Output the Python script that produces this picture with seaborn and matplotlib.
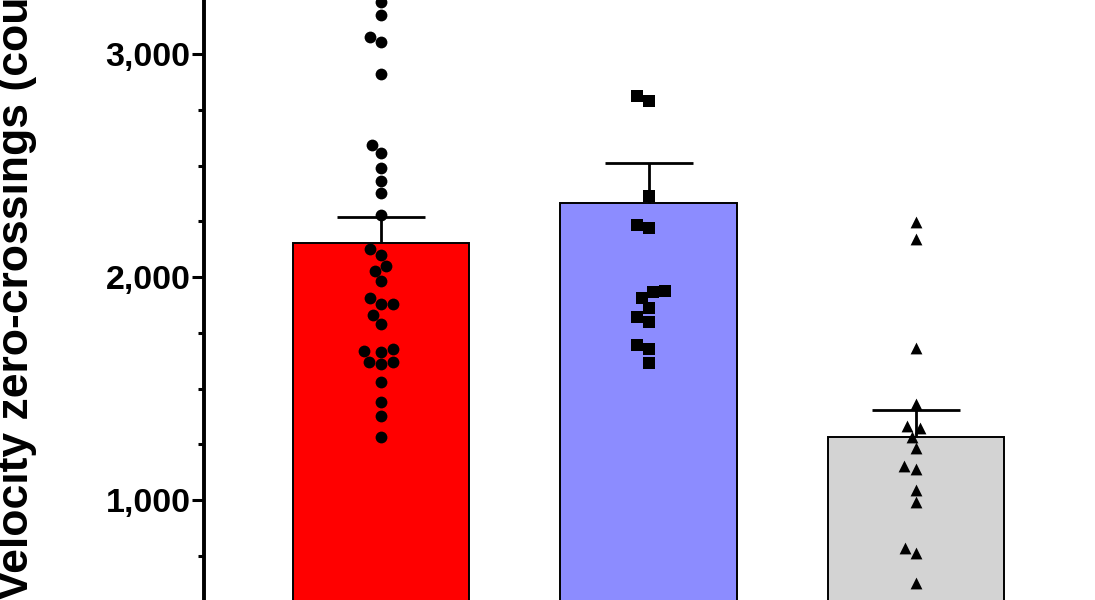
import numpy as np
import pandas as pd
import matplotlib
matplotlib.use("Agg")
import matplotlib.pyplot as plt
from matplotlib.ticker import FixedLocator, MultipleLocator, FuncFormatter
import seaborn as sns

# values (counts)
groups = ["A", "B", "C"]
bar_colors = ["#FF0000", "#8C8CFF", "#D3D3D3"]
markers = ["o", "s", "^"]

means = [2152, 2332, 1283]
sems = [117, 179, 121]

red_pts = [3233, 3175, 3076, 3054, 2910, 2592, 2556, 2489, 2430, 2377, 2278,
           2126, 2099, 2049, 2027, 1982, 1906, 1879, 1879, 1830, 1789, 1677,
           1664, 1668, 1619, 1610, 1619, 1529, 1439, 1377, 1283]
blue_pts = [2812, 2789, 2363, 2233, 2220, 1937, 1933, 1906, 1861, 1821, 1798,
            1695, 1677, 1614]
gray_pts = [2247, 2170, 1682, 1430, 1332, 1323, 1283, 1233, 1152, 1139, 1045,
            991, 785, 762, 628]

y_ticks = [1000, 2000, 3000]
y_label = "Velocity zero-crossings (counts)"

sns.set_theme(style="ticks")
plt.rcParams['font.family'] = ['Liberation Sans', 'DejaVu Sans']
plt.rcParams['font.weight'] = 'bold'
plt.rcParams['text.color'] = 'black'
plt.rcParams['ytick.color'] = 'black'
plt.rcParams['ytick.labelcolor'] = 'black'

fig = plt.figure(figsize=(10.95, 6), dpi=100)
ax = fig.add_axes([204 / 1095, 0, 1 - 204 / 1095, 1])

bars = pd.DataFrame({"group": groups, "mean": means})
sns.barplot(data=bars, x="group", y="mean", hue="group", order=groups,
            palette=bar_colors, saturation=1, legend=False, width=0.66,
            edgecolor="black", linewidth=1.4, ax=ax, zorder=1)

# upper half of the SEM bar only
eb = ax.errorbar(np.arange(len(groups)), means,
                 yerr=[np.zeros(len(sems)), sems], fmt="none", ecolor="black",
                 elinewidth=2.0, capsize=32, capthick=2.0, zorder=3)
eb[1][0].set_visible(False)

pts = pd.DataFrame({
    "group": ["A"] * len(red_pts) + ["B"] * len(blue_pts) + ["C"] * len(gray_pts),
    "value": red_pts + blue_pts + gray_pts,
})
for g, m in zip(groups, markers):
    sns.swarmplot(data=pts[pts["group"] == g], x="group", y="value",
                  order=groups, marker=m, color="black", size=8.5,
                  linewidth=0, ax=ax, zorder=4)

ax.set_xlim(-0.662, 2.669)
ax.set_ylim(552, 3242)

ax.yaxis.set_major_locator(FixedLocator(y_ticks))
ax.yaxis.set_minor_locator(MultipleLocator(250))
ax.yaxis.set_major_formatter(FuncFormatter(lambda v, p: f"{int(v):,}"))
ax.tick_params(axis="y", which="major", length=8.6, width=2.2,
               labelsize=24.5, pad=1, color="black", labelcolor="black")
ax.tick_params(axis="y", which="minor", length=4.3, width=2.2, color="black")
for lab in ax.get_yticklabels():
    lab.set_fontweight("bold")
ax.tick_params(axis="x", length=0, labelbottom=False)
ax.set_xlabel("")
ax.set_ylabel("")

for side in ["top", "right", "bottom"]:
    ax.spines[side].set_visible(False)
ax.spines["left"].set_linewidth(2.8)
ax.spines["left"].set_color("black")

fig.text(17 / 1095, 1 - 258 / 600, y_label, rotation=90, ha="center",
         va="center", fontsize=32, fontweight="bold", color="black")

fig.savefig("out.png", dpi=100)
